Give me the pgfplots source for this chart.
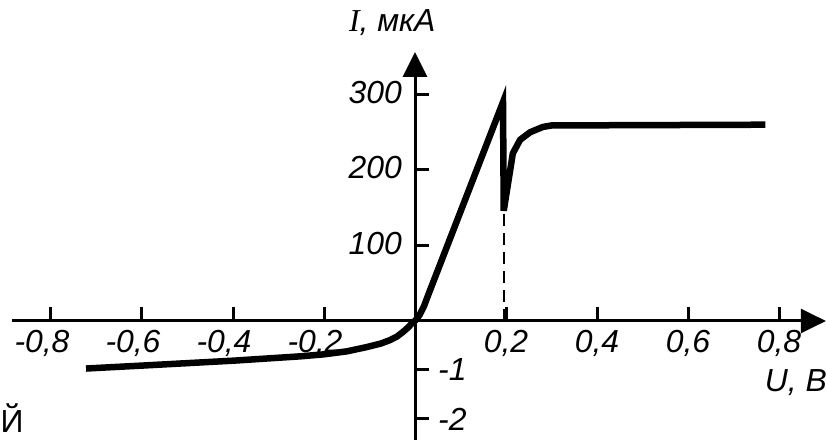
\documentclass[border=0pt]{standalone}
\usepackage{fontspec}
\setmainfont{Liberation Sans}
\newfontfamily\serifit{Liberation Serif}
\usepackage{pgfplots}
\pgfplotsset{compat=1.18}
\usetikzlibrary{arrows.meta}
\begin{document}
\begin{tikzpicture}
\begin{axis}[
  x=455bp, y=49bp,
  axis lines=middle,
  xmin=-0.886, xmax=0.903, ymin=-2.43, ymax=5.49,
  clip=false,
  axis line style={line width=3bp, -{Triangle[length=25bp,width=24bp]}},
  tick align=inside,
  major tick length=14bp,
  tick style={line width=3bp, black},
  xtick={-0.8,-0.6,-0.4,-0.2},
  xticklabels={{-0,8},{-0,6},{-0,4},{-0,2}},
  extra x ticks={0.2,0.4,0.6,0.8},
  extra x tick labels={{0,2},{0,4},{0,6},{0,8}},
  xticklabel style={anchor=north, inner sep=0pt, yshift=-9bp, xshift=-9bp},
  extra x tick style={xticklabel style={xshift=9bp}},
  ytick={1.5408,3.0816,4.6224},
  yticklabels={100,200,300},
  yticklabel style={anchor=east, inner sep=0pt, xshift=-13bp, yshift=2bp},
  extra y ticks={-1,-2},
  extra y tick labels={{-1},{-2}},
  extra y tick style={yticklabel style={anchor=west, xshift=36bp, yshift=-2bp}},
  tick label style={font=\fontsize{32}{38}\selectfont\itshape},
]
\coordinate (O) at (axis cs:0,0);
% reverse branch, microamperes
\addplot[black, line width=6.5bp, line join=round, line cap=butt] coordinates {
  (-0.723,-0.97) (-0.6,-0.91) (-0.4,-0.81) (-0.25,-0.72) (-0.2,-0.68)
  (-0.15,-0.62) (-0.105,-0.53) (-0.075,-0.46) (-0.055,-0.39) (-0.04,-0.32)
  (-0.026,-0.22) (-0.015,-0.13) (-0.007,-0.05) (0,0)
};
% forward branch, microamperes (scaled to the positive axis scale)
\addplot[black, line width=6.5bp, line join=miter, miter limit=10, line cap=butt]
  table[x=U, y expr=\thisrow{I}*0.015408] {
U I
0 0
0.01 8
0.02 20
0.03 36
0.1934 290
0.1950 146
0.215 222
0.231 240
0.253 250
0.281 257
0.30 259
0.77 260
};
\addplot[black, line width=2.5bp, dash pattern=on 12bp off 7bp] coordinates {(0.1956,0) (0.1956,2.2)};
\node[font=\fontsize{32}{38}\selectfont\itshape, anchor=center] at (axis cs:0.837,-1.265) {U, B};
\node[font=\fontsize{32}{38}\selectfont, anchor=base] at (axis cs:-0.05,5.9) {{\serifit\itshape I}\itshape, мкА};
\node[font=\fontsize{32}{38}\selectfont, anchor=base west, inner sep=0pt] at (axis cs:-0.911,-2.28) {Й};
\end{axis}
\pgfresetboundingbox
\path[use as bounding box] ([shift={(-415bp,-119bp)}]O) rectangle ([shift={(411bp,321bp)}]O);
\end{tikzpicture}
\end{document}
